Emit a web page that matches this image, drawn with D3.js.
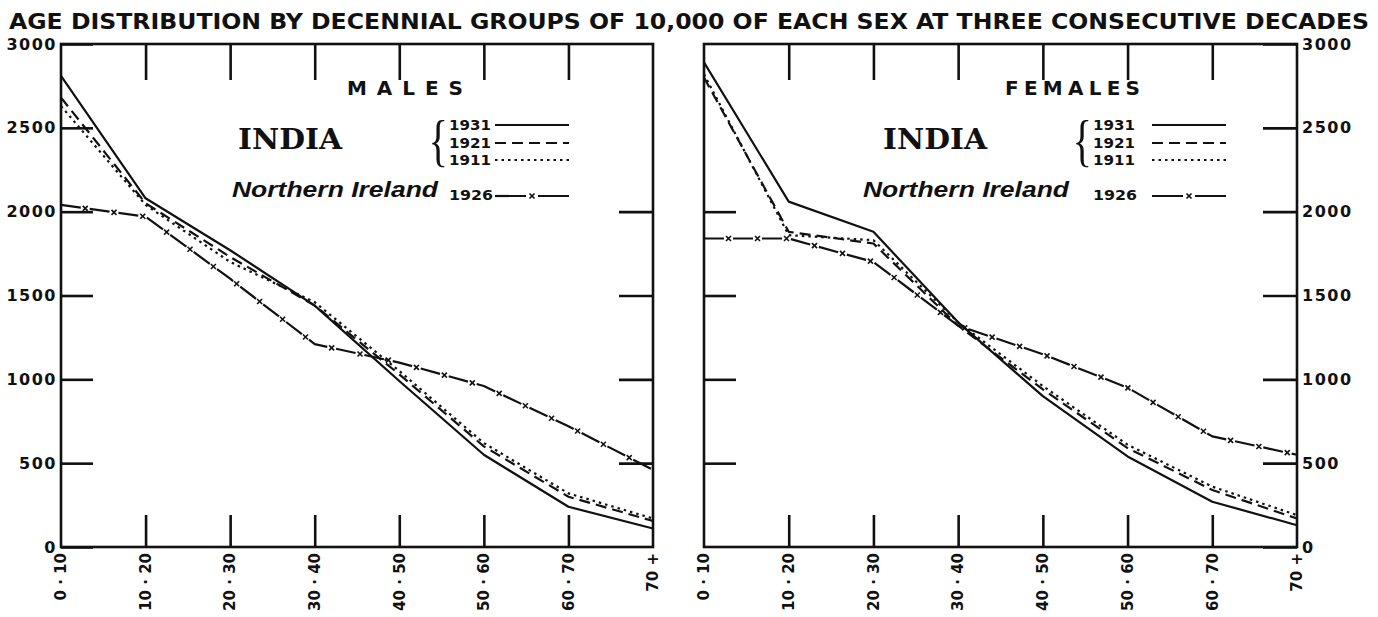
<!DOCTYPE html>
<html lang="en">
<head>
<meta charset="utf-8">
<title>Age distribution by decennial groups</title>
<script src="https://cdn.jsdelivr.net/npm/d3@7"></script>
<style>
    body { margin: 0; background: #fff; }
    text { fill: #111; font-family: "DejaVu Sans", sans-serif; font-weight: bold; }
    .frame { fill: none; stroke: #111; stroke-width: 2.6; }
    .tick line { stroke: #111; stroke-width: 2.6; }
    .domain { display: none; }
    .series { fill: none; stroke: #111; stroke-width: 2.2; stroke-linejoin: round; }
    .mark { stroke: #111; stroke-width: 1.6; }
</style>
</head>
<body>
<svg id="chart" width="1378" height="617"></svg>
<script>
// categories and tick labels
var ageGroups = ['0 · 10', '10 · 20', '20 · 30', '30 · 40', '40 · 50', '50 · 60', '60 · 70', '70 +'];
var yTicks = [0, 500, 1000, 1500, 2000, 2500, 3000];
var innerTicks = [500, 1000, 1500, 2000];

// per 10,000 of each sex
var males1931 = [2810, 2080, 1770, 1440, 990, 550, 240, 110];
var males1921 = [2680, 2050, 1730, 1440, 1030, 600, 300, 155];
var males1911 = [2630, 2040, 1700, 1460, 1050, 620, 320, 170];
var malesNI1926 = [2040, 1970, 1600, 1210, 1100, 960, 720, 460];

var females1931 = [2890, 2060, 1880, 1340, 900, 540, 270, 130];
var females1921 = [2800, 1880, 1810, 1320, 940, 590, 340, 170];
var females1911 = [2820, 1860, 1830, 1340, 960, 610, 360, 190];
var femalesNI1926 = [1840, 1840, 1700, 1320, 1150, 950, 660, 550];

var legendYears = ['1931', '1921', '1911'];

var svg = d3.select('#chart');
var y = d3.scaleLinear().domain([0, 3000]).range([547, 44]);

// title
svg.append('text')
    .attr('x', 9)
    .attr('y', 29)
    .attr('textLength', 1360)
    .attr('lengthAdjust', 'spacingAndGlyphs')
    .style('font-size', '22px')
    .style('font-family', '"Liberation Sans Narrow", "DejaVu Sans Condensed", "DejaVu Sans", sans-serif')
    .text('AGE DISTRIBUTION BY DECENNIAL GROUPS OF 10,000 OF EACH SEX AT THREE CONSECUTIVE DECADES');

function addMarks(g, path, spacing, offset) {
    var node = path.node();
    var len = node.getTotalLength();
    for (var s = offset; s < len - 4; s += spacing) {
        var p = node.getPointAtLength(s);
        g.append('line').attr('class', 'mark')
            .attr('x1', p.x - 2.5).attr('y1', p.y - 2.5)
            .attr('x2', p.x + 2.5).attr('y2', p.y + 2.5);
        g.append('line').attr('class', 'mark')
            .attr('x1', p.x - 2.5).attr('y1', p.y + 2.5)
            .attr('x2', p.x + 2.5).attr('y2', p.y - 2.5);
    }
}

function drawPanel(opts) {
    var g = svg.append('g');
    var x = d3.scalePoint().domain(ageGroups).range([opts.x0, opts.x1]);
    var inner = ageGroups.slice(1, ageGroups.length - 1);

    // top & bottom ticks
    g.append('g')
        .attr('transform', 'translate(0,' + y(0) + ')')
        .call(d3.axisBottom(x).tickValues(inner).tickSize(-32).tickFormat(''));
    g.append('g')
        .attr('transform', 'translate(0,' + y(3000) + ')')
        .call(d3.axisTop(x).tickValues(inner).tickSize(-36).tickFormat(''));

    // side ticks
    var leftAx = d3.axisLeft(y).tickSize(-32).tickPadding(4);
    var rightAx = d3.axisRight(y).tickSize(-34).tickPadding(5);
    if (opts.labels == 'left') {
        leftAx.tickValues(yTicks).tickFormat(d3.format('d'));
        rightAx.tickValues(innerTicks).tickFormat('');
    } else {
        leftAx.tickValues(innerTicks).tickFormat('');
        rightAx.tickValues(yTicks).tickFormat(d3.format('d'));
    }
    var la = g.append('g').attr('transform', 'translate(' + opts.x0 + ',0)').call(leftAx);
    var ra = g.append('g').attr('transform', 'translate(' + opts.x1 + ',0)').call(rightAx);
    [la, ra].forEach(function (a) {
        a.selectAll('text')
            .style('font-size', '16px')
            .style('letter-spacing', '1.5px')
            .style('font-family', '"DejaVu Sans", sans-serif')
            .attr('fill', '#111');
    });

    g.append('rect').attr('class', 'frame')
        .attr('x', opts.x0).attr('y', y(3000))
        .attr('width', opts.x1 - opts.x0).attr('height', y(0) - y(3000));

    // rotated category labels
    g.selectAll('.cat')
        .data(ageGroups)
        .enter().append('text')
        .attr('transform', function (d) { return 'translate(' + x(d) + ',553) rotate(-90)'; })
        .attr('text-anchor', 'end')
        .attr('dy', '0.35em')
        .style('font-size', '15px')
        .text(function (d) { return d; });

    // data lines
    var line = d3.line()
        .x(function (d, i) { return x(ageGroups[i]); })
        .y(function (d) { return y(d); });

    g.append('path').datum(opts.s1931).attr('class', 'series').attr('d', line);
    g.append('path').datum(opts.s1921).attr('class', 'series').attr('d', line)
        .attr('stroke-dasharray', '11,6');
    g.append('path').datum(opts.s1911).attr('class', 'series').attr('d', line)
        .attr('stroke-dasharray', '2.5,4').attr('stroke-width', 2.4);
    var ni = g.append('path').datum(opts.ni).attr('class', 'series').attr('d', line)
        .attr('stroke-dasharray', '20,9').attr('stroke-width', 1.8);
    addMarks(g, ni, 29, 24.5);

    // legend
    var lx = opts.legX;
    g.append('text')
        .attr('x', opts.sexX).attr('y', 95)
        .attr('textLength', opts.sexW).attr('lengthAdjust', 'spacing')
        .style('font-size', '20px')
        .text(opts.sex);
    g.append('text')
        .attr('x', opts.indiaX).attr('y', 149)
        .attr('textLength', 104).attr('lengthAdjust', 'spacingAndGlyphs')
        .style('font-size', '27px')
        .style('font-family', '"DejaVu Serif", serif')
        .text('INDIA');
    g.append('text')
        .attr('transform', 'translate(' + (lx - 1) + ',160) scale(0.7,1)')
        .attr('text-anchor', 'end')
        .style('font-size', '58px')
        .style('font-weight', 'normal')
        .style('font-family', '"Liberation Serif", serif')
        .text('{');
    var rows = [125, 143, 160];
    var dashes = [null, '11,6', '2.5,4'];
    legendYears.forEach(function (yr, i) {
        g.append('text')
            .attr('x', lx).attr('y', rows[i] + 5)
            .attr('textLength', 42).attr('lengthAdjust', 'spacingAndGlyphs')
            .style('font-size', '14px')
            .text(yr);
        g.append('line').attr('class', 'series')
            .attr('x1', opts.lineX0).attr('x2', opts.lineX0 + 74)
            .attr('y1', rows[i]).attr('y2', rows[i])
            .attr('stroke-dasharray', dashes[i]);
    });
    g.append('text')
        .attr('x', opts.nirX).attr('y', 197)
        .attr('textLength', 206).attr('lengthAdjust', 'spacingAndGlyphs')
        .style('font-size', '22px')
        .style('font-style', 'italic')
        .style('font-family', '"Liberation Sans", sans-serif')
        .text('Northern Ireland');
    g.append('text')
        .attr('x', lx).attr('y', 200)
        .attr('textLength', 44).attr('lengthAdjust', 'spacingAndGlyphs')
        .style('font-size', '14px')
        .text('1926');
    var lg = g.append('path').attr('class', 'series')
        .attr('d', 'M' + opts.lineX0 + ',' + 196 + 'H' + (opts.lineX0 + 74))
        .attr('stroke-dasharray', '31,12').attr('stroke-width', 1.8);
    addMarks(g, lg, 100, 37);
}

drawPanel({
    x0: 61, x1: 653, labels: 'left', sex: 'MALES', sexX: 347, sexW: 116,
    indiaX: 238, legX: 449, lineX0: 495, nirX: 232,
    s1931: males1931, s1921: males1921, s1911: males1911, ni: malesNI1926
});
drawPanel({
    x0: 704, x1: 1297, labels: 'right', sex: 'FEMALES', sexX: 1005, sexW: 135,
    indiaX: 883, legX: 1093, lineX0: 1152, nirX: 863,
    s1931: females1931, s1921: females1921, s1911: females1911, ni: femalesNI1926
});
</script>
</body>
</html>
